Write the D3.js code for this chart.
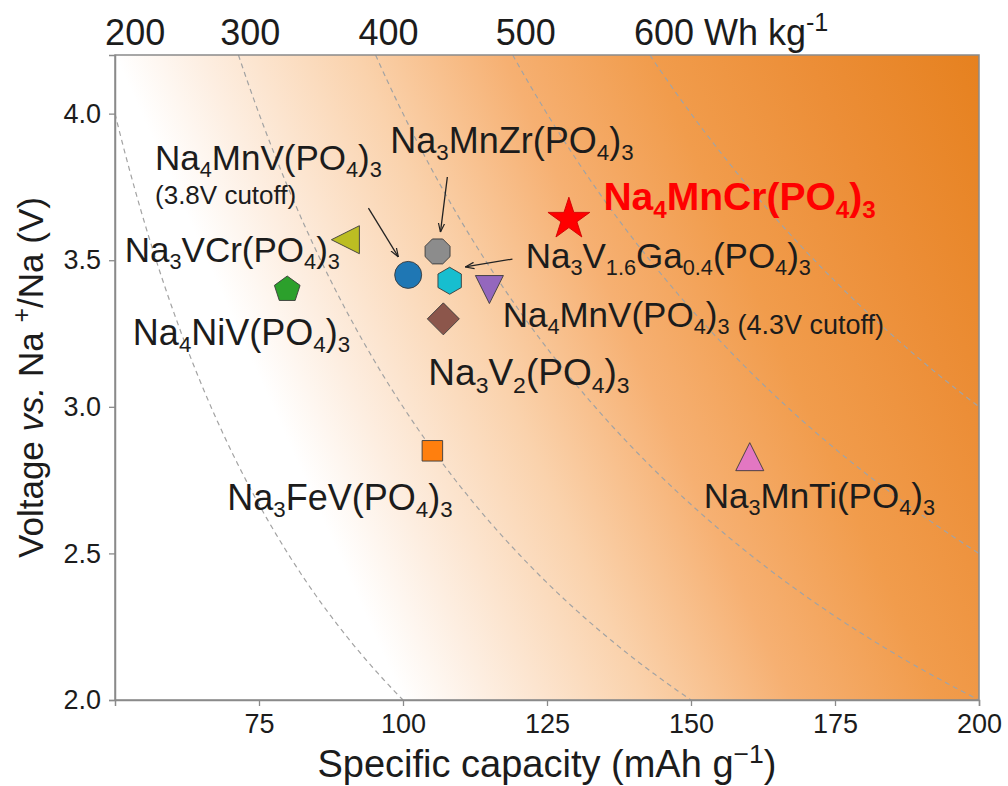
<!DOCTYPE html>
<html><head><meta charset="utf-8">
<script src="https://cdn.jsdelivr.net/npm/d3@7"></script>
<style>
body{margin:0;background:#fff}
svg{display:block}
text{font-family:"Liberation Sans",Arial,sans-serif;fill:#1c1c1c}
</style>
</head><body>
<svg id="chart" width="1008" height="786"></svg>
<script>
// ---------------- DATA ----------------
const compounds = [
  "Na_4MnCr(PO_4)_3",
  "Na_4MnV(PO_4)_3",
  "Na_3MnZr(PO_4)_3",
  "Na_3V_{1.6}Ga_{0.4}(PO_4)_3",
  "Na_4MnV(PO_4)_3",
  "Na_3V_2(PO_4)_3",
  "Na_3VCr(PO_4)_3",
  "Na_4NiV(PO_4)_3",
  "Na_3FeV(PO_4)_3",
  "Na_3MnTi(PO_4)_3"
];
const cutoffNotes = ["", "(3.8V cutoff)", "", "", "(4.3V cutoff)", "", "", "", "", ""];
const capacity = [128.8, 100.9, 106.0, 108.1, 115.0, 107.0, 90.0, 79.9, 105.1, 160.2]; // mAh g-1
const voltage  = [3.64, 3.45, 3.53, 3.43, 3.40, 3.30, 3.57, 3.40, 2.85, 2.83];        // V vs Na+/Na
const energyLevels = [200, 300, 400, 500, 600];          // Wh kg-1
const energyLabels = ["200", "300", "400", "500", "600"];
const xTicks = [75, 100, 125, 150, 175, 200];
const yTicks = [2.0, 2.5, 3.0, 3.5, 4.0];
const xDomain = [50, 200];
const yDomain = [2.0, 4.2];

// ---------------- LAYOUT / STYLE ----------------
const plot = {left:115, right:979, top:55, bottom:700};
const markerStyle = [
  {shape:"star",    fill:"#ff0000", r:22},
  {shape:"circle",  fill:"#1f77b4", r:13.5},
  {shape:"octagon", fill:"#8c8c8c", r:13.5},
  {shape:"hexagon", fill:"#17becf", r:13.5},
  {shape:"tri_down",fill:"#9467bd", r:14},
  {shape:"diamond", fill:"#8c564b", r:16},
  {shape:"tri_left",fill:"#bcbd22", r:14},
  {shape:"pentagon",fill:"#2ca02c", r:13.5},
  {shape:"square",  fill:"#ff7f0e", r:14.5},
  {shape:"tri_up",  fill:"#e377c2", r:14}
];
// label anchors (start, baseline) in data units, and font sizes
const labelAt = [[134.8,3.671],[56.95,3.808],[97.8,3.866],[121.3,3.473],[117.3,3.272],
                 [104.4,3.074],[51.7,3.494],[53.1,3.211],[69.5,2.648],[152.2,2.655]];
const labelSize = [39, 35, 36, 35, 35, 37, 35, 36, 36, 35];
const noteAt  = [null,[56.95,3.693],null,null,"inline",null,null,null,null,null];
const arrows = [ // from -> to, data units
  [[94.0,3.678],[99.2,3.511]],
  [[107.7,3.784],[106.5,3.596]],
  [[119.0,3.504],[110.8,3.477]]
];
const topLabelAt = [53.5, 73.5, 97.5, 121.3, 145.3]; // data x of top label centers
const subScale = 0.62, subDy = 7;

const svg = d3.select("#chart");
const x = d3.scaleLinear().domain(xDomain).range([plot.left, plot.right]);
const y = d3.scaleLinear().domain(yDomain).range([plot.bottom, plot.top]);

const defs = svg.append("defs");
// gradient background: white along line through (50,4.2)-(100,2.0), full orange at top-right
{
  const A=[x(50),y(4.2)], B=[x(100),y(2.0)], C=[x(200),y(4.2)];
  const u=[B[0]-A[0],B[1]-A[1]]; let n=[u[1],-u[0]]; const L=Math.hypot(n[0],n[1]); n=[n[0]/L,n[1]/L];
  const t=(C[0]-A[0])*n[0]+(C[1]-A[1])*n[1];
  const g=defs.append("linearGradient").attr("id","bg").attr("gradientUnits","userSpaceOnUse")
    .attr("x1",A[0]).attr("y1",A[1]).attr("x2",A[0]+n[0]*t).attr("y2",A[1]+n[1]*t);
  [[0,"#ffffff"],[0.1,"#fdeee1"],[0.28,"#fad2ac"],[0.45,"#f6b072"],[0.62,"#f19c4c"],[0.8,"#ec8e37"],[1,"#e6811f"]]
    .forEach(s=>g.append("stop").attr("offset",s[0]).attr("stop-color",s[1]));
}
defs.append("clipPath").attr("id","clip").append("rect")
  .attr("x",plot.left).attr("y",plot.top).attr("width",plot.right-plot.left).attr("height",plot.bottom-plot.top);
defs.append("marker").attr("id","ah").attr("viewBox","0 0 10 10").attr("refX",10).attr("refY",5)
  .attr("markerWidth",9).attr("markerHeight",9).attr("markerUnits","userSpaceOnUse").attr("orient","auto")
  .append("path").attr("d","M0,1.5 L10,5 L0,8.5").attr("fill","none").attr("stroke","#222").attr("stroke-width",1.3);

svg.append("rect").attr("x",plot.left).attr("y",plot.top).attr("width",plot.right-plot.left)
  .attr("height",plot.bottom-plot.top).attr("fill","url(#bg)");

// iso-energy curves E = capacity * voltage
const curveG = svg.append("g").attr("clip-path","url(#clip)");
energyLevels.forEach(E=>{
  const x0=Math.max(xDomain[0],E/yDomain[1]), x1=Math.min(xDomain[1],E/yDomain[0]);
  if(x0>=x1) return;
  const pts=d3.range(0,201).map(i=>{const c=x0+(x1-x0)*i/200; return [c,E/c];});
  curveG.append("path").attr("d",d3.line().x(d=>x(d[0])).y(d=>y(d[1]))(pts))
    .attr("fill","none").attr("stroke","#a3a3a3").attr("stroke-width",1.2).attr("stroke-dasharray","5,4");
});

// frame
svg.append("rect").attr("x",plot.left).attr("y",plot.top).attr("width",plot.right-plot.left)
  .attr("height",plot.bottom-plot.top).attr("fill","none").attr("stroke","#8a8a8a").attr("stroke-width",1.5);

// axes
const xAxis = svg.append("g").attr("transform",`translate(0,${plot.bottom})`)
  .call(d3.axisBottom(x).tickValues(xTicks).tickFormat(d3.format("d")).tickSize(6).tickPadding(8));
const yAxis = svg.append("g").attr("transform",`translate(${plot.left},0)`)
  .call(d3.axisLeft(y).tickValues(yTicks).tickFormat(d3.format(".1f")).tickSize(6).tickPadding(8));
[xAxis,yAxis].forEach(a=>{
  a.select(".domain").attr("stroke","#8a8a8a").attr("stroke-width",1.5);
  a.selectAll(".tick line").attr("stroke","#8a8a8a").attr("stroke-width",1.3);
  a.selectAll(".tick text").attr("font-size",27).attr("fill","#1c1c1c").attr("font-family","Liberation Sans, Arial, sans-serif");
});

// rich text helper: _x / _{..} subscript, ^x / ^{..} superscript
function rich(sel, str, fs){
  const re=/_\{([^}]*)\}|_(.)|\^\{([^}]*)\}|\^(.)|([^_^]+)/g; let m, shift=0;
  while((m=re.exec(str))){
    if(m[1]!==undefined||m[2]!==undefined){
      const d=subDy*fs/35;
      sel.append("tspan").attr("font-size",fs*subScale).attr("dy",d-shift).text(m[1]??m[2]); shift=d;
    } else if(m[3]!==undefined||m[4]!==undefined){
      const up=-0.38*fs;
      sel.append("tspan").attr("font-size",fs*0.7).attr("dy",up-shift).text(m[3]??m[4]); shift=up;
    } else {
      sel.append("tspan").attr("font-size",fs).attr("dy",-shift).text(m[5]); shift=0;
    }
  }
  return sel;
}

// markers
function poly(n,r,rot){return d3.range(n).map(i=>{const a=(rot+i*360/n)*Math.PI/180;return [r*Math.sin(a),-r*Math.cos(a)];});}
function shapePath(s,r){
  let p;
  switch(s){
    case "circle": return d3.symbol(d3.symbolCircle, Math.PI*r*r)();
    case "star": p=d3.range(10).map(i=>{const rr=i%2?r*0.382:r;const a=i*36*Math.PI/180;return [rr*Math.sin(a),-rr*Math.cos(a)];});break;
    case "octagon": p=poly(8,r,22.5);break;
    case "hexagon": p=poly(6,r,0);break;
    case "pentagon": p=poly(5,r,0);break;
    case "diamond": p=poly(4,r,0);break;
    case "square": p=poly(4,r,45);break;
    case "tri_up": p=[[0,-r],[r,r],[-r,r]];break;
    case "tri_down": p=[[0,r],[r,-r],[-r,-r]];break;
    case "tri_left": p=[[-r,0],[r,-r],[r,r]];break;
  }
  return d3.line()(p)+"Z";
}
const mk = svg.append("g");
compounds.forEach((c,i)=>{
  const st=markerStyle[i];
  mk.append("path").attr("d",shapePath(st.shape,st.r))
    .attr("transform",`translate(${x(capacity[i])},${y(voltage[i])})`)
    .attr("fill",st.fill).attr("stroke",i===0?"#d00000":"#3a3a3a").attr("stroke-width",0.9);
});

// arrows
arrows.forEach(a=>{
  svg.append("line").attr("x1",x(a[0][0])).attr("y1",y(a[0][1])).attr("x2",x(a[1][0])).attr("y2",y(a[1][1]))
    .attr("stroke","#222").attr("stroke-width",1.3).attr("marker-end","url(#ah)");
});

// labels
compounds.forEach((c,i)=>{
  const red=i===0, fs=labelSize[i];
  const t=svg.append("text").attr("x",x(labelAt[i][0])).attr("y",y(labelAt[i][1]))
    .attr("font-weight",red?"bold":null).style("fill",red?"#ff0000":null);
  rich(t,c,fs);
  if(noteAt[i]==="inline"){
    t.append("tspan").attr("font-size",27).attr("dx",8).text(cutoffNotes[i]);
  } else if(noteAt[i]){
    svg.append("text").attr("x",x(noteAt[i][0])).attr("y",y(noteAt[i][1])).attr("font-size",26).text(cutoffNotes[i]);
  }
});

// top energy labels
energyLevels.forEach((E,i)=>{
  const t=svg.append("text").attr("x",x(topLabelAt[i])).attr("y",45).attr("font-size",36)
    .attr("text-anchor","middle").text(energyLabels[i]);
  if(i===energyLevels.length-1){
    const w=t.node().getComputedTextLength();
    const u=svg.append("text").attr("x",x(topLabelAt[i])+w/2+10).attr("y",45);
    rich(u,"Wh kg^{-1}",36);
  }
});

// axis titles
rich(svg.append("text").attr("x",(plot.left+plot.right)/2).attr("y",777).attr("text-anchor","middle"),
  "Specific capacity (mAh g^{\u22121})",38);
{
  const t=svg.append("text").attr("transform",`translate(43,${(plot.top+plot.bottom)/2}) rotate(-90)`)
    .attr("text-anchor","middle").attr("font-size",35);
  t.append("tspan").text("Voltage ");
  t.append("tspan").attr("font-style","italic").text("vs.");
  t.append("tspan").text(" Na ");
  t.append("tspan").attr("font-size",25).attr("dy",-13).text("+");
  t.append("tspan").attr("dy",13).text("/Na (V)");
}
</script>
</body></html>
